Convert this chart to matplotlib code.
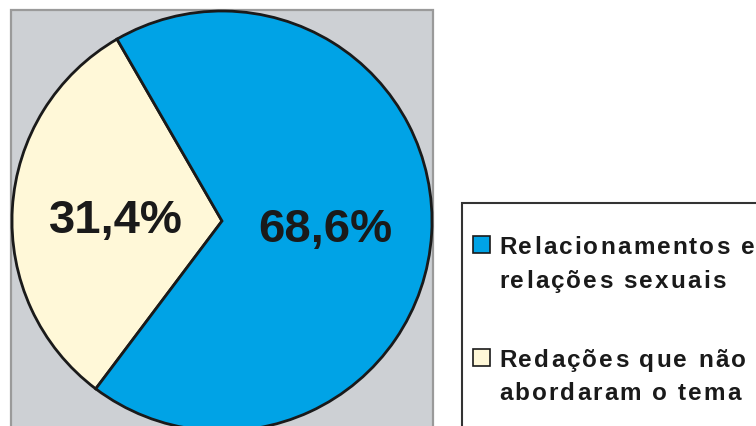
import matplotlib.pyplot as plt
from matplotlib.patches import Rectangle
from matplotlib.font_manager import FontProperties

# data
labels = ["Redações que não\nabordaram o tema", "Relacionamentos e\nrelações sexuais"]
values = [31.4, 68.6]
pct_text = ["31,4%", "68,6%"]
colors = ["#FFF8D8", "#00A3E6"]

W, H = 756, 427
fig = plt.figure(figsize=(W / 100, H / 100), dpi=100)
ax = fig.add_axes([0, 0, 1, 1])
ax.set_xlim(0, W)
ax.set_ylim(0, H)
ax.set_aspect("equal")
ax.axis("off")

def y(v):
    # image row -> data y
    return H - v

# gray panel behind the pie
ax.add_patch(Rectangle((11, y(445)), 422, 434, facecolor="#CDD0D4",
                       edgecolor="#9A9A9A", lw=1.6, zorder=0))

wedges, _ = ax.pie(values, colors=colors, startangle=120, counterclock=True,
                   center=(222, y(222)), radius=210, frame=True,
                   wedgeprops=dict(edgecolor="#1a1a1a", linewidth=2.0))
ax.set_xlim(0, W)
ax.set_ylim(0, H)
ax.axis("off")

txt = dict(fontfamily="Liberation Sans", fontweight="bold", color="#1a1a1a")
ax.text(116, y(233), pct_text[0], ha="center", va="baseline", fontsize=34, **txt)
ax.text(325, y(242), pct_text[1], ha="center", va="baseline", fontsize=34, **txt)

# legend box
ax.add_patch(Rectangle((462, y(445)), 320, 241, facecolor="white",
                       edgecolor="#333333", lw=1.5, zorder=1))

renderer = fig.canvas.get_renderer()
fp = FontProperties(family="Liberation Sans", weight="bold", size=17.5)

def wpx(s):
    w, _, _ = renderer.get_text_width_height_descent(s, fp, ismath=False)
    return w

def spaced(x0, base, s, track=2.1):
    # letter-spaced text, one glyph at a time
    ref = wpx("|")
    for i, ch in enumerate(s):
        if ch == " ":
            continue
        off = wpx(s[:i] + "|") - ref if i else 0
        ax.text(x0 + off + i * track, y(base), ch, ha="left", va="baseline",
                fontproperties=fp, color="#1a1a1a", zorder=3)

leg_rows = [(237, 254, 288, colors[1], labels[1]),
            (350, 367, 400, colors[0], labels[0])]
for top, base1, base2, col, lab in leg_rows:
    ax.add_patch(Rectangle((473, y(top + 17)), 17, 17, facecolor=col,
                           edgecolor="#1a1a1a", lw=1.2, zorder=2))
    l1, l2 = lab.split("\n")
    spaced(499, base1, l1)
    spaced(499, base2, l2)

fig.savefig("out.png", dpi=100)
